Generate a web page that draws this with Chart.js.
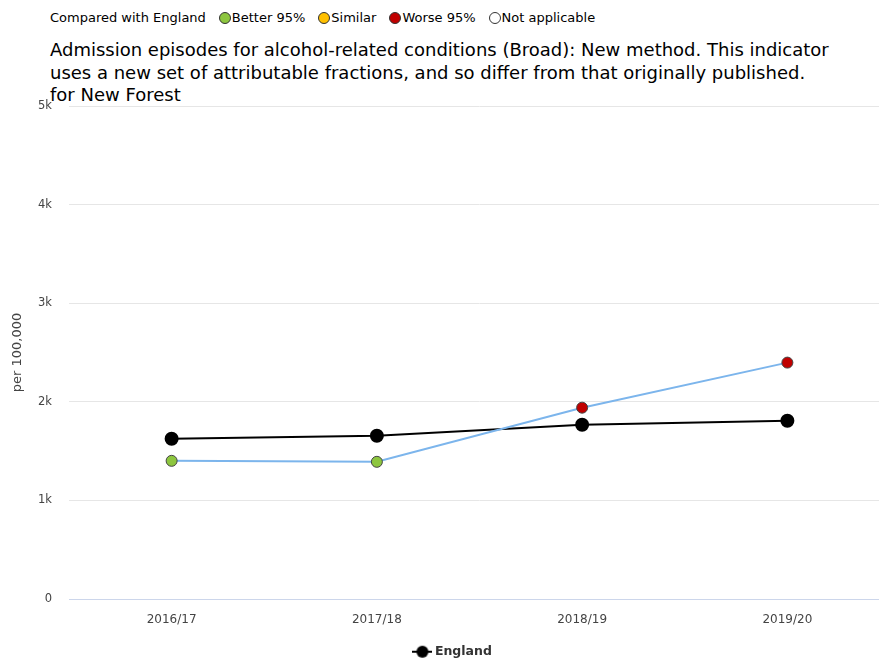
<!DOCTYPE html>
<html>
<head>
<meta charset="utf-8">
<script src="https://cdn.jsdelivr.net/npm/chart.js@4"></script>
<style>
  html, body { margin: 0; padding: 0; background: #fff; overflow: hidden; width: 879px; height: 659px; }
  #wrap { position: relative; width: 898px; height: 659px; }
  #key { position: absolute; left: 50px; top: 10px; font: 13px "DejaVu Sans", sans-serif; color: #000; white-space: nowrap; }
  #key span.dot { display: inline-block; width: 12px; height: 12px; border-radius: 50%; border: 1px solid #333; vertical-align: -2px; margin: 0 1px 0 13px; box-sizing: border-box; }
  #title { position: absolute; left: 50px; top: 39px; font: 18px "DejaVu Sans", sans-serif; line-height: 22.5px; color: #000; width: 800px; }
  canvas { position: absolute; left: 0; top: 0; }
</style>
</head>
<body>
<div id="wrap">
  <div id="key">Compared with England<span class="dot" style="background:#8dc63f"></span>Better 95%<span class="dot" style="background:#ffc000"></span>Similar<span class="dot" style="background:#c00000"></span>Worse 95%<span class="dot" style="background:#fff"></span>Not applicable</div>
  <div id="title">Admission episodes for alcohol-related conditions (Broad): New method. This indicator uses a new set of attributable fractions, and so differ from that originally published.<br>for New Forest</div>
  <canvas id="chart" width="898" height="659"></canvas>
</div>
<script>
// periodos e valores
const periods = ['2016/17', '2017/18', '2018/19', '2019/20'];
const newForest = [1402, 1392, 1941, 2398];
const england = [1626, 1657, 1768, 1809];
// cor de cada ponto comparado com a Inglaterra
const newForestColors = ['#8dc63f', '#8dc63f', '#c00000', '#c00000'];
const yTicks = [0, 1000, 2000, 3000, 4000, 5000];

// marcador da legenda: linha com circulo
const legendIcon = document.createElement('canvas');
legendIcon.width = 20;
legendIcon.height = 14;
(function() {
    const c = legendIcon.getContext('2d');
    c.strokeStyle = '#000';
    c.lineWidth = 2;
    c.beginPath();
    c.moveTo(0, 7);
    c.lineTo(20, 7);
    c.stroke();
    c.fillStyle = '#000';
    c.beginPath();
    c.arc(10, 7, 6, 0, Math.PI * 2);
    c.fill();
})();

// empurra a legenda um pouco para baixo
const legendShift = {
    id: 'legendShift',
    afterLayout(chart) {
        chart.legend.top += 9;
        chart.legend.bottom += 9;
    }
};

const ctx = document.getElementById('chart').getContext('2d');
window.myChart = new Chart(ctx, {
    type: 'line',
    data: {
        labels: periods,
        datasets: [
            {
                label: 'New Forest',
                data: newForest,
                borderColor: '#7cb5ec',
                borderWidth: 2,
                pointBackgroundColor: newForestColors,
                pointBorderColor: '#444',
                pointBorderWidth: 1,
                pointRadius: 5.5,
                fill: false,
                tension: 0
            },
            {
                label: 'England',
                data: england,
                borderColor: '#000',
                borderWidth: 2,
                pointBackgroundColor: '#000',
                pointBorderColor: '#000',
                pointRadius: 6,
                fill: false,
                tension: 0
            }
        ]
    },
    plugins: [legendShift],
    options: {
        responsive: false,
        animation: false,
        layout: { padding: { top: 106, left: 10, right: 0, bottom: 0 } },
        plugins: {
            tooltip: { enabled: false },
            legend: {
                position: 'bottom',
                labels: {
                    usePointStyle: true,
                    color: '#333',
                    font: { family: 'DejaVu Sans', size: 12.5, weight: 'bold' },
                    padding: 3,
                    generateLabels: chart => [{
                        text: 'England',
                        pointStyle: legendIcon,
                        datasetIndex: 1,
                        fontColor: '#333'
                    }]
                }
            }
        },
        scales: {
            x: {
                offset: true,
                grid: { display: false },
                border: { color: '#ccd6eb' },
                ticks: { color: '#444', font: { family: 'DejaVu Sans', size: 12 }, padding: 6 }
            },
            y: {
                min: 0,
                max: 5000,
                afterBuildTicks: axis => { axis.ticks = yTicks.map(v => ({ value: v })); },
                afterFit: axis => { axis.width = 59; },
                grid: { color: '#e6e6e6', drawTicks: false },
                border: { display: false },
                ticks: {
                    color: '#444',
                    padding: 17,
                    font: { family: 'DejaVu Sans', size: 11.5 },
                    callback: v => v === 0 ? '0' : (v / 1000) + 'k'
                },
                title: {
                    display: true,
                    text: 'per 100,000',
                    color: '#444',
                    font: { family: 'DejaVu Sans', size: 13 },
                    padding: 0
                }
            }
        }
    }
});
</script>
</body>
</html>
